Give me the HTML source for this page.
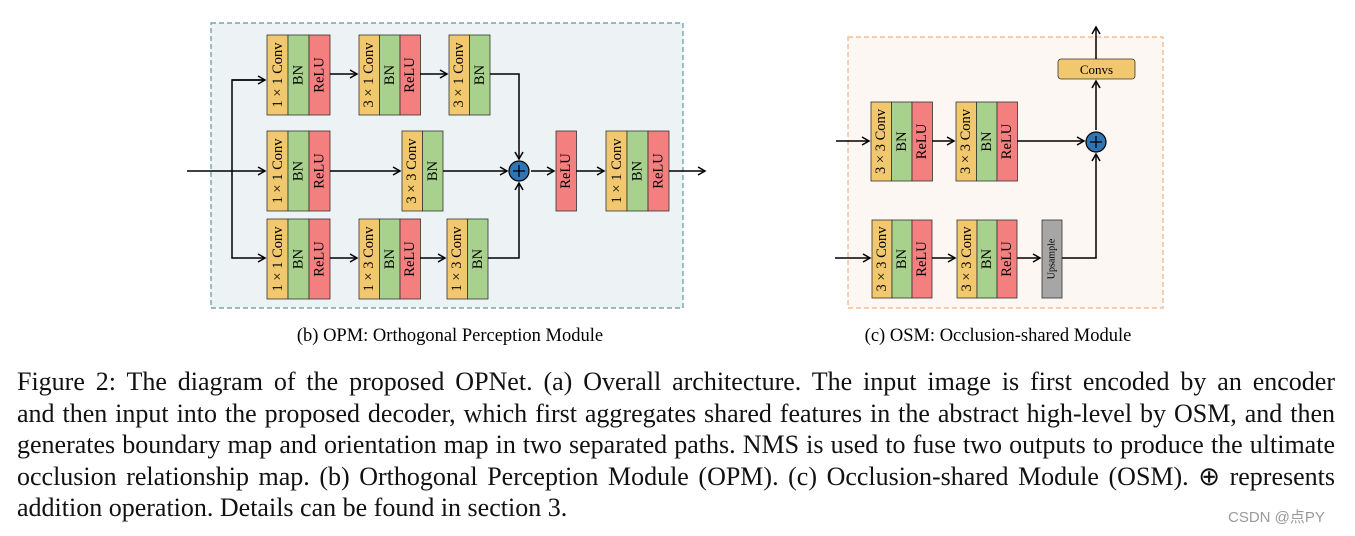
<!DOCTYPE html>
<html><head><meta charset="utf-8"><style>
body{margin:0;background:#fff;width:1355px;height:536px;overflow:hidden;position:relative;font-family:"Liberation Serif",serif}
.p{position:absolute;left:17px;width:1318px;font-size:26px;line-height:31.5px;color:#111;top:366px}
.p div{text-align:justify;text-align-last:justify;white-space:nowrap;height:31.5px}
.p div.l{text-align-last:left}
.w{position:absolute;left:1228px;top:506px;font-family:"Liberation Sans","Noto Sans CJK SC",sans-serif;font-size:15px;color:#999}
</style></head><body>
<svg width="1355" height="536" style="position:absolute;left:0;top:0" font-family="Liberation Serif, serif">
<defs><marker id="a" markerWidth="10" markerHeight="10" refX="8" refY="5" orient="auto" markerUnits="userSpaceOnUse"><path d="M1,1 L8,5 L1,9" fill="none" stroke="#000" stroke-width="1.5"/></marker></defs>
<rect x="211" y="23" width="472" height="285" fill="#edf2f5" stroke="#5b98a0" stroke-width="1.2" stroke-dasharray="5,3"/>
<rect x="848" y="37" width="315" height="271" fill="#fcf7f2" stroke="#f4b183" stroke-width="1.2" stroke-dasharray="5,3"/>
<g stroke="#333" stroke-width="0.8" fill="#000">
<rect x="267" y="35" width="21" height="80" fill="#f2c86e"/><rect x="288" y="35" width="21" height="80" fill="#a9d18e"/><rect x="309" y="35" width="21" height="80" fill="#f47f7f"/>
<rect x="359" y="35" width="20.5" height="80" fill="#f2c86e"/><rect x="379.5" y="35" width="20.5" height="80" fill="#a9d18e"/><rect x="400" y="35" width="20.5" height="80" fill="#f47f7f"/>
<rect x="449" y="35" width="20.5" height="80" fill="#f2c86e"/><rect x="469.5" y="35" width="20.5" height="80" fill="#a9d18e"/>
<rect x="267" y="131" width="21" height="80" fill="#f2c86e"/><rect x="288" y="131" width="21" height="80" fill="#a9d18e"/><rect x="309" y="131" width="21" height="80" fill="#f47f7f"/>
<rect x="402" y="131" width="20.5" height="80" fill="#f2c86e"/><rect x="422.5" y="131" width="20.5" height="80" fill="#a9d18e"/>
<rect x="556" y="131" width="20.5" height="80" fill="#f47f7f"/>
<rect x="606" y="131" width="21" height="80" fill="#f2c86e"/><rect x="627" y="131" width="21" height="80" fill="#a9d18e"/><rect x="648" y="131" width="21" height="80" fill="#f47f7f"/>
<rect x="267" y="219" width="21" height="80" fill="#f2c86e"/><rect x="288" y="219" width="21" height="80" fill="#a9d18e"/><rect x="309" y="219" width="21" height="80" fill="#f47f7f"/>
<rect x="359" y="219" width="20.5" height="80" fill="#f2c86e"/><rect x="379.5" y="219" width="20.5" height="80" fill="#a9d18e"/><rect x="400" y="219" width="20.5" height="80" fill="#f47f7f"/>
<rect x="447" y="219" width="20.5" height="80" fill="#f2c86e"/><rect x="467.5" y="219" width="20.5" height="80" fill="#a9d18e"/>
<rect x="871" y="102" width="20.5" height="79" fill="#f2c86e"/><rect x="891.5" y="102" width="20.5" height="79" fill="#a9d18e"/><rect x="912" y="102" width="20.5" height="79" fill="#f47f7f"/>
<rect x="956" y="102" width="20.5" height="79" fill="#f2c86e"/><rect x="976.5" y="102" width="20.5" height="79" fill="#a9d18e"/><rect x="997" y="102" width="20.5" height="79" fill="#f47f7f"/>
<rect x="872" y="220" width="20" height="78" fill="#f2c86e"/><rect x="892" y="220" width="20" height="78" fill="#a9d18e"/><rect x="912" y="220" width="20" height="78" fill="#f47f7f"/>
<rect x="957" y="220" width="20" height="78" fill="#f2c86e"/><rect x="977" y="220" width="20" height="78" fill="#a9d18e"/><rect x="997" y="220" width="20" height="78" fill="#f47f7f"/>
<rect x="1042" y="220" width="20" height="78" fill="#a6a6a6"/>
<rect x="1058" y="59" width="77" height="20" rx="3" fill="#f2c86e"/>
</g>
<g font-size="14.5" fill="#000" text-anchor="middle" dominant-baseline="central">
<text transform="translate(278,75) rotate(-90)">1 × 1 Conv</text><text transform="translate(298.5,75) rotate(-90)">BN</text><text transform="translate(319.5,75) rotate(-90)">ReLU</text>
<text transform="translate(369,75) rotate(-90)">3 × 1 Conv</text><text transform="translate(390,75) rotate(-90)">BN</text><text transform="translate(410,75) rotate(-90)">ReLU</text>
<text transform="translate(459,75) rotate(-90)">3 × 1 Conv</text><text transform="translate(480,75) rotate(-90)">BN</text>
<text transform="translate(278,171) rotate(-90)">1 × 1 Conv</text><text transform="translate(298.5,171) rotate(-90)">BN</text><text transform="translate(319.5,171) rotate(-90)">ReLU</text>
<text transform="translate(412,171) rotate(-90)">3 × 3 Conv</text><text transform="translate(433,171) rotate(-90)">BN</text>
<text transform="translate(566,171) rotate(-90)">ReLU</text>
<text transform="translate(617,171) rotate(-90)">1 × 1 Conv</text><text transform="translate(637.5,171) rotate(-90)">BN</text><text transform="translate(658.5,171) rotate(-90)">ReLU</text>
<text transform="translate(278,259) rotate(-90)">1 × 1 Conv</text><text transform="translate(298.5,259) rotate(-90)">BN</text><text transform="translate(319.5,259) rotate(-90)">ReLU</text>
<text transform="translate(369,259) rotate(-90)">1 × 3 Conv</text><text transform="translate(390,259) rotate(-90)">BN</text><text transform="translate(410,259) rotate(-90)">ReLU</text>
<text transform="translate(457,259) rotate(-90)">1 × 3 Conv</text><text transform="translate(478,259) rotate(-90)">BN</text>
<text transform="translate(881,141.5) rotate(-90)">3 × 3 Conv</text><text transform="translate(902,141.5) rotate(-90)">BN</text><text transform="translate(922,141.5) rotate(-90)">ReLU</text>
<text transform="translate(966,141.5) rotate(-90)">3 × 3 Conv</text><text transform="translate(987,141.5) rotate(-90)">BN</text><text transform="translate(1007,141.5) rotate(-90)">ReLU</text>
<text transform="translate(882,259) rotate(-90)">3 × 3 Conv</text><text transform="translate(902,259) rotate(-90)">BN</text><text transform="translate(922,259) rotate(-90)">ReLU</text>
<text transform="translate(967,259) rotate(-90)">3 × 3 Conv</text><text transform="translate(987,259) rotate(-90)">BN</text><text transform="translate(1007,259) rotate(-90)">ReLU</text>
<text transform="translate(1052,259) rotate(-90)" font-size="10">Upsample</text>
<text x="1096.5" y="69.5" font-size="13">Convs</text>
</g>
<g stroke="#000" stroke-width="1.5" fill="none">
<path d="M187,171 H265" marker-end="url(#a)"/>
<path d="M265,80 H232 V258 H265" marker-end="url(#a)"/>
<path d="M232,80 H265" marker-end="url(#a)"/>
<path d="M330,74 H357" marker-end="url(#a)"/><path d="M420,74 H447" marker-end="url(#a)"/>
<path d="M490,74 H519 V159" marker-end="url(#a)"/>
<path d="M330,171 H400" marker-end="url(#a)"/><path d="M443,171 H507" marker-end="url(#a)"/>
<path d="M330,258 H357" marker-end="url(#a)"/><path d="M420,258 H445" marker-end="url(#a)"/>
<path d="M488,258 H519 V183" marker-end="url(#a)"/>
<path d="M531,171 H554" marker-end="url(#a)"/><path d="M576,171 H604" marker-end="url(#a)"/>
<path d="M669,171 H705" marker-end="url(#a)"/>
<path d="M836,141 H869" marker-end="url(#a)"/><path d="M932,141 H954" marker-end="url(#a)"/>
<path d="M1017,141 H1084" marker-end="url(#a)"/>
<path d="M835,258 H870" marker-end="url(#a)"/><path d="M932,258 H955" marker-end="url(#a)"/><path d="M1017,258 H1040" marker-end="url(#a)"/>
<path d="M1062,258 H1096 V154" marker-end="url(#a)"/>
<path d="M1096,130 V81" marker-end="url(#a)"/>
<path d="M1096,59 V27" marker-end="url(#a)"/>
</g>
<circle cx="519" cy="171" r="10" fill="#2e75b6" stroke="#000" stroke-width="1.2"/>
<path d="M513,171 H525 M519,165 V177" stroke="#000" stroke-width="1.3"/>
<circle cx="1096" cy="142" r="10" fill="#2e75b6" stroke="#000" stroke-width="1.2"/>
<path d="M1090,142 H1102 M1096,136 V148" stroke="#000" stroke-width="1.3"/>
<text x="450" y="341" font-size="18.5" text-anchor="middle">(b)  OPM: Orthogonal Perception Module</text>
<text x="998" y="341" font-size="18.5" text-anchor="middle">(c)  OSM: Occlusion-shared Module</text>
</svg>
<div class="p">
<div>Figure 2: The diagram of the proposed OPNet. (a) Overall architecture.  The input image is first encoded by an encoder</div>
<div>and then input into the proposed decoder, which first aggregates shared features in the abstract high-level by OSM, and then</div>
<div>generates boundary map and orientation map in two separated paths. NMS is used to fuse two outputs to produce the ultimate</div>
<div>occlusion relationship map. (b) Orthogonal Perception Module (OPM). (c) Occlusion-shared Module (OSM). ⊕ represents</div>
<div class="l">addition operation. Details can be found in section 3.</div>
</div>
<div class="w">CSDN @点PY</div>
</body></html>
